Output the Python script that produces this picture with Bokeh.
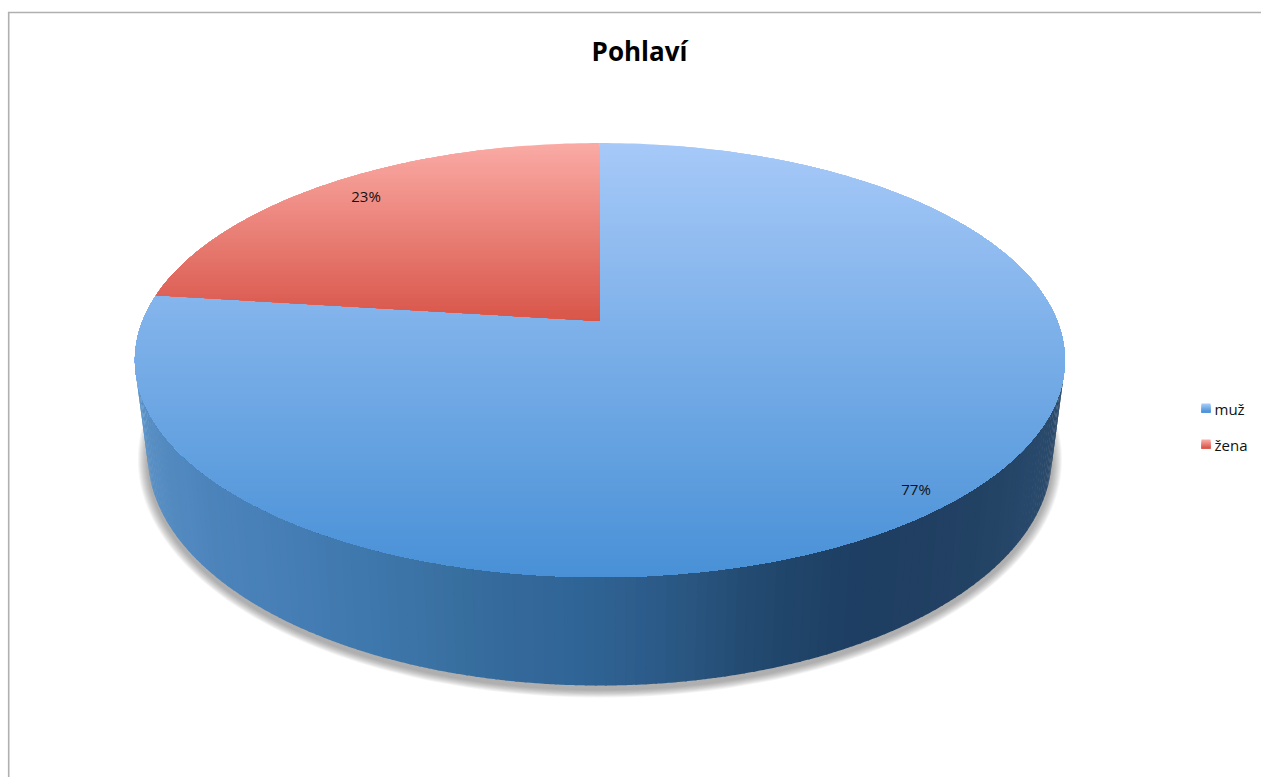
import math
from bokeh.plotting import figure
from bokeh.models import Range1d
from bokeh.core.properties import value
from bokeh.embed import file_html
from bokeh.resources import INLINE

# ---- data ----
categories = ["muž", "žena"]
shares = [77, 23]
labels = ["77%", "23%"]
title = "Pohlaví"

# ---- styles ----
FONT = "Open Sans"
BLUE_TOP, BLUE_BOTTOM = (166, 201, 248), (72, 144, 214)
RED_TOP, RED_BOTTOM = (250, 170, 164), (216, 84, 72)
WALL = ["#5d95ca", "#5a92c8", "#5890c6", "#568dc3", "#528abf", "#5088bf", "#4c84bb", "#4a82b9",
        "#4880b8", "#467eb5", "#437cb2", "#4079ae", "#3d76aa", "#3c73a6", "#376f9f", "#356a9c",
        "#33679a", "#2f6496", "#2e5f8e", "#2b5a88", "#28537d", "#244c73", "#21466c", "#1f4267",
        "#1e3f63", "#1f3f62", "#203f62", "#214063", "#224264", "#244466", "#264668", "#28486b",
        "#2a4a6c", "#2b4a6c", "#2d4b6c", "#2f4d6b"]
SUB = 4

CX = 599.4
TOP_APEX_Y = 320.5
K, A, B = 0.18, 457.4, 210.0      # perspective of the lid
BASE_C, BASE_A, BASE_B = 455.0, 452.0, 230.0


def lid(t):
    """t: angle clockwise from the top of the pie, in radians"""
    x, y = math.sin(t), math.cos(t)
    d = 1 + K * y
    return CX + A * x / d, TOP_APEX_Y - B * y / d


def lid_param(phi):
    """lid rim as a plain ellipse, phi measured from the bottom, + to the right"""
    return CX + 465.0 * math.sin(phi), 359.5 + 217.0 * math.cos(phi)


def base_param(phi):
    return CX + BASE_A * math.sin(phi), BASE_C + BASE_B * math.cos(phi)


def clip_below(pts, y0):
    out = []
    for i, (x1, y1) in enumerate(pts):
        x2, y2 = pts[(i + 1) % len(pts)]
        if y1 >= y0:
            out.append((x1, y1))
        if (y1 >= y0) != (y2 >= y0):
            f = (y0 - y1) / (y2 - y1)
            out.append((x1 + f * (x2 - x1), y0))
    return out


def mix(c0, c1, f):
    return "#%02x%02x%02x" % tuple(round(a + (b - a) * f) for a, b in zip(c0, c1))


def rgb(h):
    return tuple(int(h[i:i + 2], 16) for i in (1, 3, 5))


p = figure(width=1261, height=777, output_backend="svg", toolbar_location=None,
           x_range=Range1d(0, 1261), y_range=Range1d(777, 0), min_border=0)
p.axis.visible = False
p.grid.visible = False
p.outline_line_color = None
p.background_fill_color = "white"
p.border_fill_color = "white"

# frame
p.line([8.2, 8.2], [777, 12], line_color="#b0b0b0", line_width=1.6)
p.line([7.4, 1261], [12, 12], line_color="#b0b0b0", line_width=1.6)

# shadow
for i in range(10):
    g = 10 - i
    xs = [CX + (BASE_A + g) * math.sin(2 * math.pi * j / 240) for j in range(240)]
    ys = [BASE_C + 4 + (BASE_B + g * 0.8) * math.cos(2 * math.pi * j / 240) for j in range(240)]
    p.patch(xs, ys, fill_color="#555555", fill_alpha=0.06, line_color=None)

# side wall: facets across the front half, softened between neighbouring tones
fxs, fys, fcs = [], [], []
n_facets = (len(WALL) - 1) * SUB + 1
step = math.pi / n_facets
for i in range(n_facets):
    idx, frac = divmod(i, SUB)
    c = WALL[idx] if frac == 0 else mix(rgb(WALL[idx]), rgb(WALL[idx + 1]), frac / SUB)
    a0 = -math.pi / 2 + i * step
    a1 = a0 + step * 1.2
    ang = [a0 + (a1 - a0) * j / 4 for j in range(5)]
    top = [lid_param(a) for a in ang]
    bot = [base_param(a) for a in ang]
    poly = top + bot[::-1]
    fxs.append([q[0] for q in poly])
    fys.append([q[1] for q in poly])
    fcs.append(c)
p.patches(fxs, fys, fill_color=fcs, line_color=None)

# lid: one wedge per category, shaded in bands by painting from top down
total = sum(shares)
start = 2 * math.pi * (total - shares[1]) / total   # žena ends at 12 o'clock
wedges = [(0.0, start, BLUE_TOP, BLUE_BOTTOM, 577.0),
          (start, 2 * math.pi, RED_TOP, RED_BOTTOM, TOP_APEX_Y)]
for t0, t1, c0, c1, y_end in wedges:
    m = max(8, int((t1 - t0) / (2 * math.pi) * 360))
    rim = [lid(t0 + (t1 - t0) * j / m) for j in range(m + 1)]
    pts = [(CX, TOP_APEX_Y)] + rim
    bxs, bys, bcs = [], [], []
    y = 142.0
    while y < y_end:
        part = clip_below(pts, y)
        if len(part) > 2:
            bxs.append([q[0] for q in part])
            bys.append([q[1] for q in part])
            bcs.append(mix(c0, c1, (y - 142.0) / (y_end - 142.0)))
        y += 4.0
    p.patches(bxs, bys, fill_color=bcs, line_color=None)

# texts
p.text([639], [50.5], text=[title], text_font=value(FONT), text_font_style="bold",
       text_font_size="26px", text_align="center", text_baseline="middle", text_color="#000000")
p.text([915.5, 365.5], [488, 195], text=labels, text_font=value(FONT), text_font_size="15px",
       text_align="center", text_baseline="middle", text_color="#111111")

# legend
for cat, y, c0, c1 in zip(categories, [408, 444], [BLUE_TOP, RED_TOP], [BLUE_BOTTOM, RED_BOTTOM]):
    sx, sy = [], []
    cols = []
    for i in range(9):
        sx.append([1201, 1210, 1210, 1201])
        yy = y - 5 + i
        sy.append([yy, yy, y + 4, y + 4])
        cols.append(mix(c0, c1, i / 8))
    p.patches(sx, sy, fill_color=cols, line_color=None)
    p.text([1214], [y], text=[cat], text_font=value(FONT), text_font_size="15px",
           text_align="left", text_baseline="middle", text_color="#111111")

open("out.html", "w").write(file_html(p, INLINE))
